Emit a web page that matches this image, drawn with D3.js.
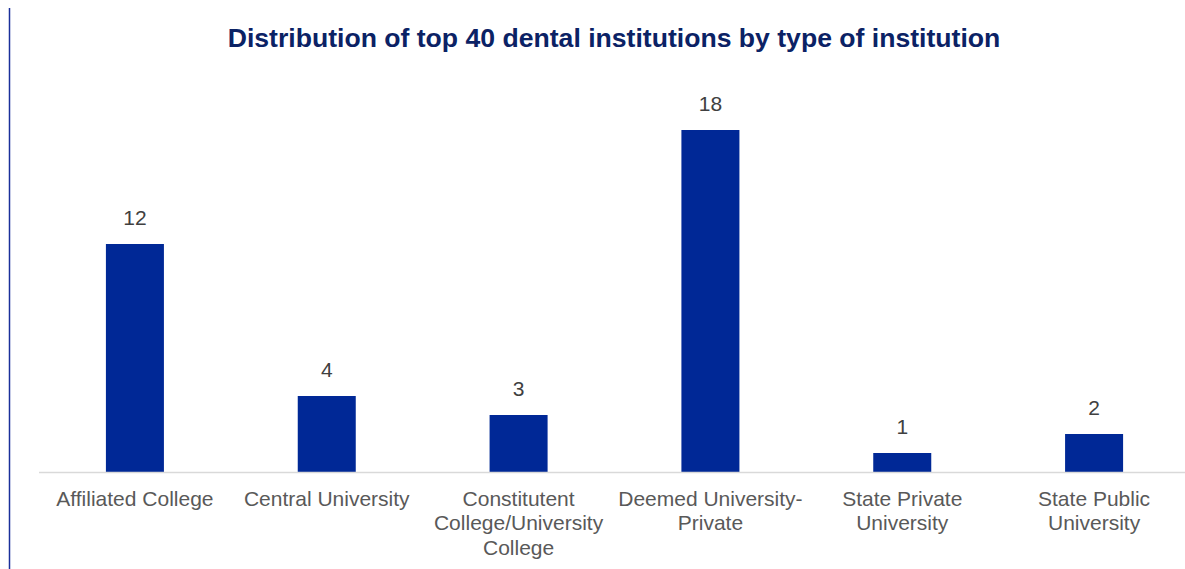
<!DOCTYPE html>
<html><head><meta charset="utf-8">
<script src="https://cdn.jsdelivr.net/npm/d3@7"></script>
<style>body{margin:0;background:#fff;}svg{display:block;}</style>
</head><body>
<script>
const categories = [
  ["Affiliated College"],
  ["Central University"],
  ["Constitutent", "College/University", "College"],
  ["Deemed University-", "Private"],
  ["State Private", "University"],
  ["State Public", "University"]
];
const values = [12, 4, 3, 18, 1, 2];
const title = "Distribution of top 40 dental institutions by type of institution";

const W = 1185, H = 569;
const FONT = "'Liberation Sans', Arial, sans-serif";
const svg = d3.select("body").append("svg").attr("width", W).attr("height", H);

svg.append("line").attr("x1", 9.5).attr("x2", 9.5).attr("y1", 8).attr("y2", H)
  .attr("stroke", "#1a2f9a").attr("stroke-width", 1.5);

svg.append("text").attr("x", 614).attr("y", 47).attr("text-anchor", "middle")
  .attr("font-family", FONT).attr("font-weight", "bold")
  .attr("font-size", 26.6).attr("fill", "#0b2265").text(title);

const idx = d3.range(values.length);
const x = d3.scaleBand().domain(idx).range([39, 1190]).paddingInner(0.6976).paddingOuter(0.3488);
const y = d3.scaleLinear().domain([0, 18]).range([472, 130]);

svg.selectAll("rect.bar").data(idx).join("rect").attr("class", "bar")
  .attr("x", i => x(i)).attr("width", x.bandwidth())
  .attr("y", i => y(values[i])).attr("height", i => y(0) - y(values[i]))
  .attr("fill", "#002896");

svg.append("line").attr("x1", 39).attr("x2", W).attr("y1", 472.5).attr("y2", 472.5)
  .attr("stroke", "#d9d9d9").attr("stroke-width", 1.5);

svg.selectAll("text.val").data(idx).join("text").attr("class", "val")
  .attr("x", i => x(i) + x.bandwidth() / 2).attr("y", i => y(values[i]) - 19)
  .attr("text-anchor", "middle").attr("font-family", FONT)
  .attr("font-size", 21).attr("fill", "#404040").text(i => values[i]);

const lab = svg.selectAll("text.cat").data(idx).join("text").attr("class", "cat")
  .attr("text-anchor", "middle").attr("font-family", FONT)
  .attr("font-size", 21).attr("fill", "#595959");
lab.each(function(i) {
  const t = d3.select(this);
  categories[i].forEach((s, k) => {
    t.append("tspan").attr("x", x(i) + x.bandwidth() / 2).attr("y", 505.5 + k * 24.5).text(s);
  });
});
</script>
</body></html>
